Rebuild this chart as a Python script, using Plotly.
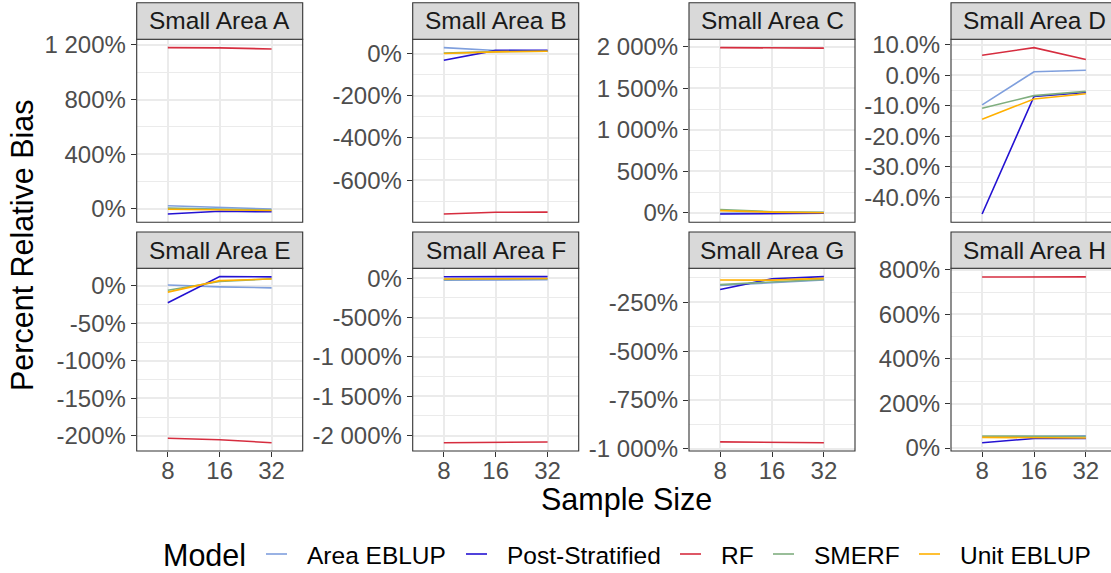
import plotly.graph_objects as go

W, H = 1111, 573

# ---------------- data ----------------
sample_sizes = ["8", "16", "32"]
models = ["Area EBLUP", "Post-Stratified", "RF", "SMERF", "Unit EBLUP"]
model_colors = ["#7F9FDD", "#2412D2", "#D62D3F", "#7FAE7F", "#FFB000"]
area_names = ["Small Area A", "Small Area B", "Small Area C", "Small Area D",
              "Small Area E", "Small Area F", "Small Area G", "Small Area H"]

# percent relative bias, one list per model (values at sample sizes 8, 16, 32)
bias_A = {"Area EBLUP": [22, 8, -2], "Post-Stratified": [-38, -18, -22],
          "RF": [1180, 1178, 1170], "SMERF": [5, -5, -10], "Unit EBLUP": [-3, -10, -12]}
bias_B = {"Area EBLUP": [28, 14, 12], "Post-Stratified": [-32, 15, 15],
          "RF": [-760, -752, -751], "SMERF": [2, 9, 11], "Unit EBLUP": [0, 8, 11]}
bias_C = {"Area EBLUP": [-5, 2, 5], "Post-Stratified": [-12, -6, -4],
          "RF": [1988, 1985, 1982], "SMERF": [40, 15, 8], "Unit EBLUP": [28, 10, 3]}
bias_D = {"Area EBLUP": [-9.7, 1.1, 1.6], "Post-Stratified": [-45.4, -7.0, -5.7],
          "RF": [6.5, 9.0, 5.1], "SMERF": [-10.8, -6.7, -5.3], "Unit EBLUP": [-14.4, -7.8, -6.1]}
bias_E = {"Area EBLUP": [1.3, -1.3, -2.6], "Post-Stratified": [-22.5, 12.4, 12.0],
          "RF": [-203, -205, -209], "SMERF": [-5.7, 5.8, 9.5], "Unit EBLUP": [-8.3, 7.0, 9.3]}
bias_F = {"Area EBLUP": [-25, -20, -20], "Post-Stratified": [18, 20, 20],
          "RF": [-2090, -2086, -2082], "SMERF": [-15, -8, -8], "Unit EBLUP": [-10, -5, -5]}
bias_G = {"Area EBLUP": [-164, -151, -136], "Post-Stratified": [-185, -130, -119],
          "RF": [-964, -965, -968], "SMERF": [-160, -145, -133], "Unit EBLUP": [-136, -137, -128]}
bias_H = {"Area EBLUP": [50, 52, 55], "Post-Stratified": [24, 43, 43],
          "RF": [768, 770, 769], "SMERF": [54, 54, 52], "Unit EBLUP": [48, 47, 45]}
area_bias = [bias_A, bias_B, bias_C, bias_D, bias_E, bias_F, bias_G, bias_H]

# y tick values and labels per panel
ticks_A = [0, 400, 800, 1200]
labels_A = ["0%", "400%", "800%", "1 200%"]
ticks_B = [-600, -400, -200, 0]
labels_B = ["-600%", "-400%", "-200%", "0%"]
ticks_C = [0, 500, 1000, 1500, 2000]
labels_C = ["0%", "500%", "1 000%", "1 500%", "2 000%"]
ticks_D = [-40, -30, -20, -10, 0, 10]
labels_D = ["-40.0%", "-30.0%", "-20.0%", "-10.0%", "0.0%", "10.0%"]
ticks_E = [-200, -150, -100, -50, 0]
labels_E = ["-200%", "-150%", "-100%", "-50%", "0%"]
ticks_F = [-2000, -1500, -1000, -500, 0]
labels_F = ["-2 000%", "-1 500%", "-1 000%", "-500%", "0%"]
ticks_G = [-1000, -750, -500, -250]
labels_G = ["-1 000%", "-750%", "-500%", "-250%"]
ticks_H = [0, 200, 400, 600, 800]
labels_H = ["0%", "200%", "400%", "600%", "800%"]
area_ticks = [ticks_A, ticks_B, ticks_C, ticks_D, ticks_E, ticks_F, ticks_G, ticks_H]
area_labels = [labels_A, labels_B, labels_C, labels_D, labels_E, labels_F, labels_G, labels_H]

# ---------------- layout geometry (pixels) ----------------
col_px = [(136.7, 302.7), (412.7, 578.7), (689.0, 855.0), (951.0, 1117.0)]
row_panel_px = [(39.3, 222.3), (268.3, 451.0)]
row_strip_px = [(2.7, 39.3), (232.0, 268.3)]
legend_line_px = [266, 466, 680, 773, 919]
legend_text_px = [307, 507, 721, 814, 960]
legend_title_px = 163
legend_y_px = 555

FONT = "Liberation Sans, Arial, Helvetica, sans-serif"
GRID = "#EBEBEB"
DARK = "#333333"

fig = go.Figure()
shapes = []
annotations = []

for i, name in enumerate(area_names):
    r, c = divmod(i, 4)
    n = i + 1
    xa = "x" if n == 1 else f"x{n}"
    ya = "y" if n == 1 else f"y{n}"
    data = area_bias[i]
    for m, col in zip(models, model_colors):
        fig.add_trace(go.Scatter(
            x=sample_sizes, y=data[m], mode="lines", name=m,
            line=dict(color=col, width=1.6),
            xaxis=xa, yaxis=ya, showlegend=False, legendgroup=m,
            hoverinfo="skip"))

    allv = [v for m in models for v in data[m]]
    lo, hi = min(allv), max(allv)
    pad = 0.05 * (hi - lo)
    yr = [lo - pad, hi + pad]
    tv = area_ticks[i]
    step = tv[1] - tv[0]
    minor = [t + step / 2 for t in [tv[0] - step] + tv]

    x0, x1 = col_px[c]
    unit = (x1 - x0) / 3.2
    vis_x1 = min(x1, W)
    xr = [-0.6, -0.6 + (vis_x1 - x0) / unit]
    py0, py1 = row_panel_px[r]
    dom_x = [x0 / W, vis_x1 / W]
    dom_y = [1 - py1 / H, 1 - py0 / H]

    bottom = (r == 1)
    fig.layout[("xaxis" if n == 1 else f"xaxis{n}")] = dict(
        domain=dom_x, anchor=ya, type="category", range=xr, automargin=False,
        categoryorder="array", categoryarray=sample_sizes,
        showgrid=True, gridcolor=GRID, gridwidth=1.8, zeroline=False,
        showline=False, ticks="outside" if bottom else "", ticklen=5,
        tickwidth=1.1, tickcolor=DARK, showticklabels=bottom,
        ticklabelstandoff=-7,
        tickfont=dict(family=FONT, size=24, color="#4D4D4D"),
        fixedrange=True)
    fig.layout[("yaxis" if n == 1 else f"yaxis{n}")] = dict(
        domain=dom_y, anchor=xa, range=yr, automargin=False,
        tickmode="array", tickvals=tv, ticktext=area_labels[i],
        showgrid=True, gridcolor=GRID, gridwidth=1.8, zeroline=False,
        showline=False, ticks="outside", ticklen=5, tickwidth=1.1,
        tickcolor=DARK, tickfont=dict(family=FONT, size=24, color="#4D4D4D"),
        minor=dict(tickvals=minor, showgrid=True, gridcolor=GRID,
                   gridwidth=0.9, ticks=""),
        fixedrange=True)

    # panel border
    shapes.append(dict(type="rect", xref="paper", yref="paper",
                       x0=x0 / W, x1=x1 / W, y0=1 - py1 / H, y1=1 - py0 / H,
                       line=dict(color=DARK, width=1.1), fillcolor="rgba(0,0,0,0)",
                       layer="above"))
    # strip
    sy0, sy1 = row_strip_px[r]
    shapes.append(dict(type="rect", xref="paper", yref="paper",
                       x0=x0 / W, x1=x1 / W, y0=1 - sy1 / H, y1=1 - sy0 / H,
                       line=dict(color=DARK, width=1.1), fillcolor="#D9D9D9",
                       layer="above"))
    annotations.append(dict(text=name, xref="paper", yref="paper",
                            x=(x0 + x1) / 2 / W, y=1 - (sy0 + sy1) / 2 / H,
                            xanchor="center", yanchor="middle", showarrow=False,
                            font=dict(family=FONT, size=24.5, color="#1A1A1A")))

# axis titles
annotations.append(dict(text="Sample Size", xref="paper", yref="paper",
                        x=627 / W, y=1 - 499 / H, xanchor="center", yanchor="middle",
                        showarrow=False, font=dict(family=FONT, size=30.5, color="black")))
annotations.append(dict(text="Percent Relative Bias", xref="paper", yref="paper",
                        x=22 / W, y=1 - 245 / H, xanchor="center", yanchor="middle",
                        textangle=-90, showarrow=False,
                        font=dict(family=FONT, size=30.5, color="black")))

# legend (drawn as key lines + labels)
annotations.append(dict(text="Model", xref="paper", yref="paper",
                        x=(legend_title_px - 2) / W, y=1 - legend_y_px / H,
                        xanchor="left", yanchor="middle", showarrow=False,
                        font=dict(family=FONT, size=30.5, color="black")))
for m, col, lx, tx in zip(models, model_colors, legend_line_px, legend_text_px):
    shapes.append(dict(type="line", xref="paper", yref="paper",
                       x0=lx / W, x1=(lx + 21) / W,
                       y0=1 - (legend_y_px - 1) / H, y1=1 - (legend_y_px - 1) / H,
                       line=dict(color=col, width=1.6)))
    annotations.append(dict(text=m, xref="paper", yref="paper",
                            x=(tx - 2) / W, y=1 - legend_y_px / H,
                            xanchor="left", yanchor="middle", showarrow=False,
                            font=dict(family=FONT, size=24.5, color="black")))

fig.update_layout(
    width=W, height=H, margin=dict(l=0, r=0, t=0, b=0, autoexpand=False),
    paper_bgcolor="white", plot_bgcolor="white",
    shapes=shapes, annotations=annotations,
    showlegend=False,
)

fig.write_html("out.html")
